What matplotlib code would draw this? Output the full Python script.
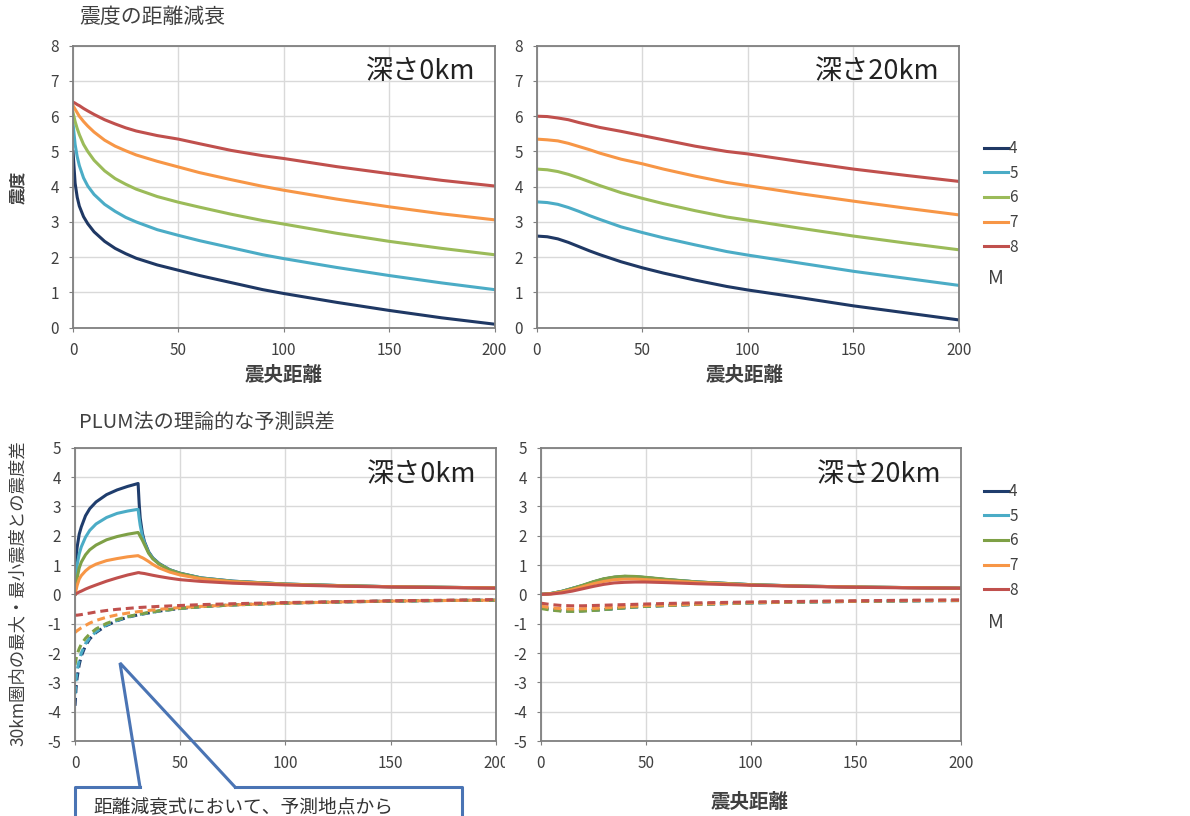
import numpy as np
import matplotlib
matplotlib.use("Agg")
from matplotlib import pyplot as plt
from matplotlib.lines import Line2D
from matplotlib.patches import Rectangle

plt.rcParams['font.family'] = ['Noto Sans CJK JP', 'DejaVu Sans']
plt.rcParams['axes.unicode_minus'] = False

W, H = 1190, 816

mags = ['4', '5', '6', '7', '8']
colors_top = ['#1f3864', '#4bacc6', '#9bbb59', '#f79646', '#c0504d']
colors_bot = ['#1f3d6d', '#4bacc6', '#7ea046', '#f79646', '#c0504d']

# top-left: depth 0 km, intensity vs epicentral distance
x_tl = [0, 1, 2, 3, 5, 7, 10, 15, 20, 25, 30, 40, 50, 60, 75, 90, 100, 125, 150, 175, 200]
tl_m4 = [5.0, 4.1, 3.7, 3.45, 3.15, 2.95, 2.72, 2.45, 2.25, 2.1, 1.97, 1.78, 1.63, 1.48, 1.28, 1.08, 0.97, 0.72, 0.49, 0.28, 0.1]
tl_m5 = [5.8, 5.2, 4.85, 4.6, 4.25, 4.02, 3.78, 3.5, 3.3, 3.13, 3.0, 2.78, 2.62, 2.47, 2.27, 2.07, 1.96, 1.71, 1.48, 1.27, 1.08]
tl_m6 = [6.1, 5.85, 5.65, 5.48, 5.2, 5.0, 4.75, 4.45, 4.23, 4.07, 3.93, 3.72, 3.56, 3.42, 3.22, 3.04, 2.94, 2.68, 2.45, 2.25, 2.07]
tl_m7 = [6.3, 6.2, 6.1, 6.0, 5.85, 5.72, 5.55, 5.32, 5.15, 5.02, 4.9, 4.72, 4.56, 4.4, 4.2, 4.01, 3.9, 3.65, 3.43, 3.23, 3.06]
tl_m8 = [6.4, 6.37, 6.33, 6.3, 6.22, 6.15, 6.05, 5.9, 5.78, 5.67, 5.58, 5.45, 5.35, 5.22, 5.03, 4.88, 4.8, 4.57, 4.37, 4.18, 4.02]

# top-right: depth 20 km
x_tr = [0, 5, 10, 15, 20, 25, 30, 40, 50, 60, 75, 90, 100, 125, 150, 175, 200]
tr_m4 = [2.6, 2.58, 2.52, 2.42, 2.3, 2.18, 2.07, 1.87, 1.7, 1.55, 1.35, 1.17, 1.07, 0.85, 0.62, 0.42, 0.22]
tr_m5 = [3.57, 3.55, 3.5, 3.41, 3.3, 3.18, 3.07, 2.86, 2.7, 2.55, 2.35, 2.16, 2.06, 1.83, 1.6, 1.4, 1.2]
tr_m6 = [4.5, 4.48, 4.43, 4.35, 4.25, 4.14, 4.03, 3.83, 3.67, 3.52, 3.32, 3.14, 3.05, 2.82, 2.6, 2.4, 2.21]
tr_m7 = [5.35, 5.33, 5.3, 5.23, 5.14, 5.05, 4.95, 4.78, 4.65, 4.5, 4.3, 4.12, 4.03, 3.8, 3.59, 3.39, 3.2]
tr_m8 = [6.0, 5.99, 5.95, 5.9, 5.82, 5.75, 5.68, 5.57, 5.45, 5.33, 5.15, 5.0, 4.93, 4.71, 4.5, 4.32, 4.15]

# bottom-left: depth 0 km, max (solid) / min (dashed) difference within 30 km
x_bl = [0, 0.5, 1, 2, 3, 5, 7, 10, 15, 20, 25, 30, 30.5, 31, 32, 33, 35, 37, 40, 45, 50, 60, 75, 100, 125, 150, 175, 200]
bl_max_m4 = [0, 1.2, 1.6, 2.05, 2.3, 2.68, 2.92, 3.15, 3.4, 3.56, 3.68, 3.78, 3.1, 2.6, 2.1, 1.8, 1.45, 1.24, 1.05, 0.84, 0.72, 0.56, 0.45, 0.35, 0.3, 0.26, 0.24, 0.22]
bl_max_m5 = [0, 0.7, 1.0, 1.38, 1.62, 1.95, 2.18, 2.4, 2.62, 2.76, 2.84, 2.9, 2.6, 2.35, 2.0, 1.76, 1.43, 1.23, 1.04, 0.84, 0.71, 0.56, 0.45, 0.35, 0.3, 0.26, 0.24, 0.22]
bl_max_m6 = [0, 0.35, 0.55, 0.9, 1.1, 1.35, 1.52, 1.68, 1.86, 1.97, 2.05, 2.11, 2.05, 1.98, 1.85, 1.7, 1.4, 1.21, 1.03, 0.83, 0.71, 0.55, 0.44, 0.35, 0.3, 0.26, 0.24, 0.22]
bl_max_m7 = [0, 0.15, 0.3, 0.52, 0.64, 0.8, 0.92, 1.03, 1.15, 1.22, 1.28, 1.32, 1.3, 1.28, 1.25, 1.21, 1.12, 1.02, 0.9, 0.76, 0.66, 0.53, 0.43, 0.34, 0.29, 0.26, 0.24, 0.22]
bl_max_m8 = [0, 0.02, 0.04, 0.08, 0.11, 0.18, 0.24, 0.32, 0.45, 0.56, 0.66, 0.74, 0.74, 0.73, 0.72, 0.71, 0.68, 0.65, 0.61, 0.55, 0.5, 0.44, 0.38, 0.32, 0.28, 0.25, 0.23, 0.21]

x_bl_min = [0, 0.5, 1, 2, 3, 5, 7, 10, 15, 20, 25, 30, 40, 50, 60, 75, 100, 125, 150, 175, 200]
bl_min_m4 = [-3.8, -3.2, -2.85, -2.4, -2.1, -1.75, -1.52, -1.3, -1.06, -0.9, -0.78, -0.7, -0.57, -0.48, -0.42, -0.36, -0.3, -0.26, -0.23, -0.21, -0.2]
bl_min_m5 = [-3.4, -2.9, -2.6, -2.25, -2.0, -1.68, -1.48, -1.27, -1.04, -0.89, -0.77, -0.69, -0.57, -0.48, -0.42, -0.36, -0.3, -0.26, -0.23, -0.21, -0.2]
bl_min_m6 = [-2.4, -2.2, -2.05, -1.85, -1.7, -1.5, -1.35, -1.18, -0.99, -0.86, -0.76, -0.68, -0.56, -0.48, -0.42, -0.36, -0.3, -0.26, -0.23, -0.21, -0.2]
bl_min_m7 = [-1.3, -1.27, -1.24, -1.19, -1.14, -1.06, -0.98, -0.89, -0.78, -0.7, -0.64, -0.59, -0.51, -0.45, -0.41, -0.36, -0.3, -0.26, -0.23, -0.21, -0.2]
bl_min_m8 = [-0.72, -0.71, -0.71, -0.7, -0.69, -0.66, -0.64, -0.6, -0.55, -0.51, -0.48, -0.45, -0.41, -0.38, -0.35, -0.32, -0.28, -0.25, -0.22, -0.2, -0.18]

# bottom-right: depth 20 km
x_br = [0, 5, 10, 15, 20, 25, 30, 35, 40, 45, 50, 60, 75, 100, 125, 150, 175, 200]
br_max_m4 = [0, 0.03, 0.1, 0.2, 0.3, 0.42, 0.52, 0.58, 0.61, 0.6, 0.57, 0.5, 0.42, 0.33, 0.28, 0.25, 0.23, 0.21]
br_max_m5 = [0, 0.03, 0.1, 0.2, 0.3, 0.42, 0.52, 0.58, 0.61, 0.6, 0.57, 0.5, 0.42, 0.33, 0.28, 0.25, 0.23, 0.21]
br_max_m6 = [0, 0.03, 0.1, 0.2, 0.31, 0.43, 0.53, 0.59, 0.62, 0.61, 0.58, 0.51, 0.42, 0.33, 0.28, 0.25, 0.23, 0.21]
br_max_m7 = [0, 0.02, 0.08, 0.16, 0.26, 0.36, 0.44, 0.5, 0.52, 0.52, 0.5, 0.46, 0.4, 0.32, 0.28, 0.25, 0.23, 0.21]
br_max_m8 = [0, 0.01, 0.05, 0.11, 0.19, 0.27, 0.34, 0.39, 0.41, 0.42, 0.42, 0.4, 0.36, 0.31, 0.27, 0.24, 0.22, 0.21]
br_min_m4 = [-0.45, -0.52, -0.56, -0.57, -0.56, -0.54, -0.52, -0.49, -0.46, -0.43, -0.41, -0.38, -0.34, -0.29, -0.26, -0.24, -0.22, -0.21]
br_min_m5 = [-0.45, -0.52, -0.56, -0.57, -0.56, -0.54, -0.52, -0.49, -0.46, -0.43, -0.41, -0.38, -0.34, -0.29, -0.26, -0.24, -0.22, -0.21]
br_min_m6 = [-0.48, -0.54, -0.57, -0.58, -0.57, -0.55, -0.52, -0.49, -0.46, -0.43, -0.41, -0.38, -0.34, -0.29, -0.26, -0.24, -0.22, -0.21]
br_min_m7 = [-0.4, -0.46, -0.49, -0.5, -0.49, -0.48, -0.46, -0.44, -0.42, -0.4, -0.38, -0.36, -0.33, -0.28, -0.25, -0.23, -0.21, -0.2]
br_min_m8 = [-0.3, -0.35, -0.38, -0.39, -0.39, -0.38, -0.37, -0.36, -0.35, -0.34, -0.33, -0.31, -0.29, -0.26, -0.24, -0.22, -0.2, -0.19]

LW = 2.2
DASH = (2.6, 1.6)
BOX_BLUE = '#4a74b4'
TXT = '#404040'


def px_axes(fig, l, t, r, b):
    return fig.add_axes([l / W, 1 - b / H, (r - l) / W, (b - t) / H])


def style_axes(ax, ylim, yticks, depth_label):
    ax.set_xlim(0, 200)
    ax.set_ylim(*ylim)
    ax.set_xticks([0, 50, 100, 150, 200])
    ax.set_yticks(yticks)
    ax.grid(True, color='#d9d9d9', lw=1.0)
    ax.set_axisbelow(True)
    for s in ax.spines.values():
        s.set_color('#7f7f7f')
        s.set_linewidth(1.3)
    ax.tick_params(axis='both', length=3, width=0.8, color='#7f7f7f',
                   labelsize=11, labelcolor=TXT, pad=7)
    ax.text(0.955, 0.955, depth_label, transform=ax.transAxes, ha='right', va='top',
            fontsize=19.5, color='#222222')


def fig_text(fig, x, y, s, **kw):
    fig.text(x / W, 1 - y / H, s, **kw)


fig = plt.figure(figsize=(W / 100, H / 100), dpi=100)

ax_tl = px_axes(fig, 73, 45.7, 494.5, 327.7)
ax_tr = px_axes(fig, 536.7, 45.7, 959, 327.7)
ax_bl = px_axes(fig, 75, 447.7, 495.7, 741)
ax_br = px_axes(fig, 540.7, 447.7, 960.7, 741)

style_axes(ax_tl, (0, 8), range(0, 9), '深さ0km')
style_axes(ax_tr, (0, 8), range(0, 9), '深さ20km')
style_axes(ax_bl, (-5, 5), range(-5, 6), '深さ0km')
style_axes(ax_br, (-5, 5), range(-5, 6), '深さ20km')

tl = [tl_m4, tl_m5, tl_m6, tl_m7, tl_m8]
tr = [tr_m4, tr_m5, tr_m6, tr_m7, tr_m8]
for i in range(5):
    ax_tl.plot(x_tl, tl[i], color=colors_top[i], lw=LW)
    ax_tr.plot(x_tr, tr[i], color=colors_top[i], lw=LW)

bl_max = [bl_max_m4, bl_max_m5, bl_max_m6, bl_max_m7, bl_max_m8]
bl_min = [bl_min_m4, bl_min_m5, bl_min_m6, bl_min_m7, bl_min_m8]
br_max = [br_max_m4, br_max_m5, br_max_m6, br_max_m7, br_max_m8]
br_min = [br_min_m4, br_min_m5, br_min_m6, br_min_m7, br_min_m8]
for i in range(5):
    ax_bl.plot(x_bl, bl_max[i], color=colors_bot[i], lw=LW)
    ax_br.plot(x_br, br_max[i], color=colors_bot[i], lw=LW)
for i in range(5):
    ax_bl.plot(x_bl_min, bl_min[i], color=colors_bot[i], lw=LW, dashes=DASH)
    ax_br.plot(x_br, br_min[i], color=colors_bot[i], lw=LW, dashes=DASH)

# legends
for cols, top_y, m_y in [(colors_top, 140, 279), (colors_bot, 483, 622)]:
    handles = [Line2D([], [], color=c, lw=LW) for c in cols]
    fig.legend(handles, mags, loc='upper left', bbox_to_anchor=(984 / W, 1 - top_y / H),
               frameon=False, fontsize=11, handlelength=1.6, handletextpad=0.05,
               labelspacing=0.5, borderaxespad=0, borderpad=0, labelcolor=TXT)
    fig_text(fig, 996, m_y, 'M', ha='center', va='center', fontsize=14, color=TXT)

# titles and axis labels
fig_text(fig, 79, 17, '震度の距離減衰', ha='left', va='center', fontsize=15, color=TXT)
fig_text(fig, 79, 422, 'PLUM法の理論的な予測誤差', ha='left', va='center', fontsize=14.5, color=TXT)
fig_text(fig, 18, 187, '震度', ha='center', va='center', rotation=90, fontsize=12,
         fontweight='bold', color=TXT)
fig_text(fig, 18, 593, '30km圏内の最大・最小震度との震度差', ha='center', va='center',
         rotation=90, fontsize=12.5, color=TXT)
fig_text(fig, 284, 376, '震央距離', ha='center', va='center', fontsize=14, fontweight='bold', color=TXT)
fig_text(fig, 745, 376, '震央距離', ha='center', va='center', fontsize=14, fontweight='bold', color=TXT)
fig_text(fig, 750, 802, '震央距離', ha='center', va='center', fontsize=14, fontweight='bold', color=TXT)

# white strip that hides the tail of the last tick label of the lower-left chart
fig.patches.append(Rectangle((505 / W, 1 - 775 / H), 25 / W, 22 / H, transform=fig.transFigure,
                             facecolor='white', edgecolor='none', zorder=5))


# callout box at the bottom
def fpts(pts):
    return [p[0] / W for p in pts], [1 - p[1] / H for p in pts]


xs, ys = fpts([(140, 787), (75, 787), (75, 830)])
fig.add_artist(Line2D(xs, ys, color=BOX_BLUE, lw=2.2, transform=fig.transFigure, zorder=10))
xs, ys = fpts([(235, 787), (462, 787), (462, 830)])
fig.add_artist(Line2D(xs, ys, color=BOX_BLUE, lw=2.2, transform=fig.transFigure, zorder=10))
xs, ys = fpts([(140, 787), (120, 663), (235, 787)])
fig.add_artist(Line2D(xs, ys, color=BOX_BLUE, lw=2.2, transform=fig.transFigure, zorder=10,
                      solid_joinstyle='miter'))
fig_text(fig, 93, 796, '距離減衰式において、予測地点から', ha='left', va='top', fontsize=13.5, color='#333333')

plt.savefig('out.png', dpi=100)
